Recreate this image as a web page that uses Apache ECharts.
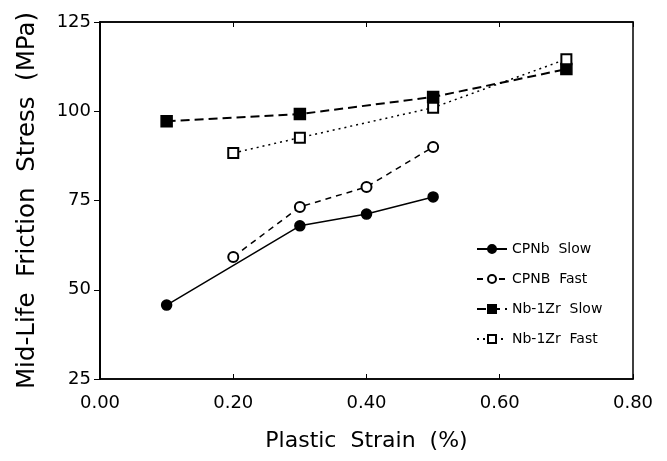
<!DOCTYPE html>
<html>
<head>
<meta charset="utf-8">
<script src="https://cdn.jsdelivr.net/npm/echarts@6/dist/echarts.min.js"></script>
<style>
  html, body { margin: 0; padding: 0; background: #fff; }
  #main { width: 667px; height: 461px; }
</style>
</head>
<body>
<div id="main"></div>
<script>
// plastic strain (%)
const cpnbSlowX = [0.1, 0.3, 0.4, 0.5];
const cpnbSlowY = [45.7, 67.9, 71.2, 76.0];
const cpnbFastX = [0.2, 0.3, 0.4, 0.5];
const cpnbFastY = [59.2, 73.2, 78.8, 90.0];
const nbSlowX = [0.1, 0.3, 0.5, 0.7];
const nbSlowY = [97.2, 99.2, 104.0, 111.8];
const nbFastX = [0.2, 0.3, 0.5, 0.7];
const nbFastY = [88.3, 92.6, 101.0, 114.6];

const xTicks = ['0.00', '0.20', '0.40', '0.60', '0.80'];
const yTicks = [25, 50, 75, 100, 125];

const pairs = (xs, ys) => xs.map((x, i) => [x, ys[i]]);
const FONT = 'DejaVu Sans';

const chart = echarts.init(document.getElementById('main'));

const mkSeries = (name, data, symbol, size, lineType, width) => ({
  name: name,
  type: 'line',
  data: data,
  symbol: symbol,
  symbolSize: size,
  showSymbol: true,
  animation: false,
  itemStyle: { color: '#000', borderColor: '#000', borderWidth: 1.5 },
  lineStyle: { color: '#000', width: width, type: lineType },
  z: 3
});

chart.setOption({
  backgroundColor: '#fff',
  animation: false,
  textStyle: { fontFamily: FONT, color: '#000' },
  grid: {
    left: 100, right: 34, top: 22, bottom: 82,
    show: true, borderColor: '#000', borderWidth: 1.5
  },
  legend: {
    orient: 'vertical',
    left: 471,
    top: 237,
    itemWidth: 30,
    itemHeight: 10,
    itemGap: 16,
    textStyle: { fontFamily: FONT, fontSize: 14, color: '#000' },
    data: ['CPNb  Slow', 'CPNB  Fast', 'Nb-1Zr  Slow', 'Nb-1Zr  Fast']
  },
  xAxis: [{
    type: 'value',
    min: 0, max: 0.8, interval: 0.2,
    name: 'Plastic  Strain  (%)',
    nameLocation: 'middle',
    nameGap: 51,
    nameTextStyle: { fontFamily: FONT, fontSize: 22, color: '#000' },
    axisLine: { show: true, lineStyle: { color: '#000', width: 1.5 } },
    axisTick: { show: true, inside: true, length: 5, lineStyle: { color: '#000' } },
    axisLabel: {
      fontFamily: FONT, fontSize: 18, color: '#000', margin: 15,
      formatter: (v) => xTicks[Math.round(v / 0.2)]
    },
    splitLine: { show: false }
  }, {
    type: 'value',
    position: 'top',
    min: 0, max: 0.8, interval: 0.2,
    axisLine: { show: true, lineStyle: { color: '#000', width: 1.5 } },
    axisTick: { show: true, inside: true, length: 5, lineStyle: { color: '#000' } },
    axisLabel: { show: false },
    splitLine: { show: false }
  }],
  yAxis: [{
    type: 'value',
    min: yTicks[0], max: yTicks[yTicks.length - 1], interval: 25,
    name: 'Mid-Life  Friction  Stress  (MPa)',
    nameLocation: 'middle',
    nameGap: 60,
    nameTextStyle: { fontFamily: FONT, fontSize: 24.5, color: '#000' },
    axisLine: { show: true, lineStyle: { color: '#000', width: 1.5 } },
    axisTick: { show: true, inside: false, length: 4, lineStyle: { color: '#000' } },
    axisLabel: { fontFamily: FONT, fontSize: 18, color: '#000', margin: 9 },
    splitLine: { show: false }
  }, {
    type: 'value',
    position: 'right',
    min: yTicks[0], max: yTicks[yTicks.length - 1], interval: 25,
    axisLine: { show: true, lineStyle: { color: '#000', width: 1.5 } },
    axisTick: { show: true, inside: true, length: 6, lineStyle: { color: '#000' } },
    axisLabel: { show: false },
    splitLine: { show: false }
  }],
  series: [
    mkSeries('CPNb  Slow', pairs(cpnbSlowX, cpnbSlowY), 'circle', 10, 'solid', 1.5),
    mkSeries('CPNB  Fast', pairs(cpnbFastX, cpnbFastY), 'emptyCircle', 10, [6, 5], 1.5),
    mkSeries('Nb-1Zr  Slow', pairs(nbSlowX, nbSlowY), 'rect', 11, [9, 5], 2),
    mkSeries('Nb-1Zr  Fast', pairs(nbFastX, nbFastY), 'emptyRect', 10, [2, 4], 1.5)
  ]
});
</script>
</body>
</html>
